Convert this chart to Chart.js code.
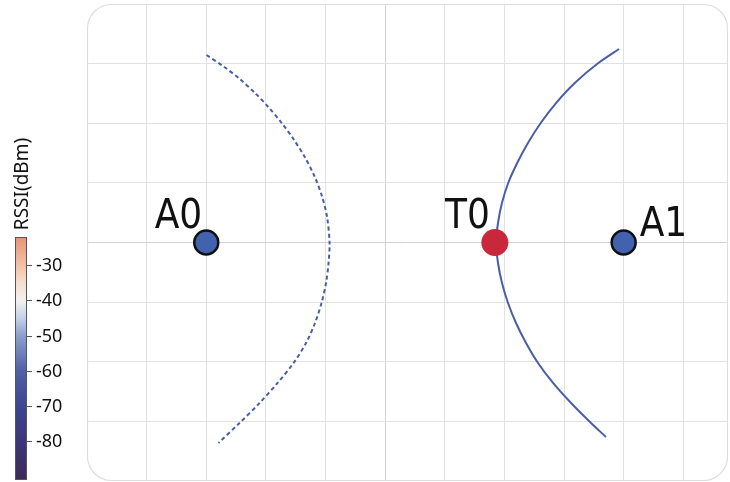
<!DOCTYPE html>
<html>
<head>
<meta charset="utf-8">
<script src="https://cdn.jsdelivr.net/npm/chart.js@4/dist/chart.umd.min.js"></script>
<style>
  html, body { margin: 0; padding: 0; background: #fff; }
  #wrap { width: 730px; height: 482px; }
</style>
</head>
<body>
<div id="wrap"><canvas id="c" width="730" height="482"></canvas></div>
<script>
// ── Data ───────────────────────────────────────────────
const xRange = [-5, 5.75];
const yRange = [-4, 4];

// dashed branch around A0
const curveLeftX = [-2.995, -2.697, -2.438, -2.182, -1.959, -1.734, -1.538, -1.348, -1.179, -1.055, -0.974, -0.932,
                    -0.949, -0.991, -1.067, -1.176, -1.327, -1.536, -1.804, -2.106, -2.442, -2.794];
const curveLeftY = [ 3.144,  2.943,  2.742,  2.507,  2.272,  2.004,  1.736,  1.434,  1.098,  0.763,  0.428, -0.008,
                    -0.344, -0.679, -1.014, -1.350, -1.685, -2.021, -2.356, -2.692, -3.027, -3.363];

// solid branch through T0
const curveRightX = [3.923, 3.575, 3.180, 2.866, 2.609, 2.395, 2.214, 2.064, 1.959, 1.893, 1.860,
                     1.893, 1.960, 2.061, 2.195, 2.363, 2.564, 2.816, 3.118, 3.453, 3.704];
const curveRightY = [3.245, 3.010, 2.675, 2.339, 2.004, 1.669, 1.333, 0.998, 0.662, 0.327, 0.000,
                     -0.344, -0.679, -1.014, -1.350, -1.685, -2.021, -2.356, -2.692, -3.027, -3.262];

const anchorNames = ['A0', 'A1'];
const anchorX = [-3, 4];
const anchorY = [0, 0];

const tagNames = ['T0'];
const tagX = [1.84];
const tagY = [0];

// colour bar
const cbMin = -91, cbMax = -22;
const cbTicks = [-30, -40, -50, -60, -70, -80];
const cbTitle = 'RSSI(dBm)';

// ── Styles ─────────────────────────────────────────────
const LINE = '#4a5ea6';
const BLUE = '#4261ae';
const RED = '#c8283a';
const GRID = '#e2e2e2';
const CB_STOPS = [
  [-91, 'rgb(62,42,88)'],
  [-80, 'rgb(60,54,122)'],
  [-70, 'rgb(58,70,145)'],
  [-60, 'rgb(78,96,166)'],
  [-50, 'rgb(140,160,206)'],
  [-45, 'rgb(196,210,232)'],
  [-40, 'rgb(242,241,240)'],
  [-35, 'rgb(246,222,206)'],
  [-30, 'rgb(243,192,167)'],
  [-22, 'rgb(232,146,116)']
];

const pts = (xs, ys) => xs.map((x, i) => ({ x, y: ys[i] }));

// rounded plot frame + corner mask
const framePlugin = {
  id: 'frame',
  beforeDraw(chart) {
    const ctx = chart.ctx;
    ctx.save();
    ctx.fillStyle = '#fff';
    ctx.fillRect(0, 0, chart.width, chart.height);
    ctx.restore();
  },
  beforeDatasetsDraw(chart) {
    const { ctx, chartArea: a } = chart;
    const r = 24;
    ctx.save();
    ctx.beginPath();
    ctx.rect(a.left - 2, a.top - 2, a.right - a.left + 4, a.bottom - a.top + 4);
    ctx.roundRect(a.left, a.top, a.right - a.left, a.bottom - a.top, r);
    ctx.fillStyle = '#fff';
    ctx.fill('evenodd');
    ctx.beginPath();
    ctx.roundRect(a.left + 0.5, a.top + 0.5, a.right - a.left - 1, a.bottom - a.top - 1, r);
    ctx.strokeStyle = '#dedede';
    ctx.lineWidth = 1.2;
    ctx.stroke();
    ctx.restore();
  }
};

// point labels
const labelPlugin = {
  id: 'labels',
  afterDatasetsDraw(chart) {
    const { ctx, scales: { x, y } } = chart;
    ctx.save();
    ctx.fillStyle = '#111';
    ctx.font = '40px "DejaVu Sans Condensed", "DejaVu Sans"';
    ctx.fontStretch = 'condensed';
    ctx.textBaseline = 'alphabetic';
    anchorNames.forEach((n, i) => {
      const px = x.getPixelForValue(anchorX[i]);
      const py = y.getPixelForValue(anchorY[i]);
      if (i === 0) { ctx.textAlign = 'right'; ctx.fillText(n, px - 4, py - 15); }
      else { ctx.textAlign = 'left'; ctx.fillText(n, px + 16, py - 7); }
    });
    tagNames.forEach((n, i) => {
      const px = x.getPixelForValue(tagX[i]);
      const py = y.getPixelForValue(tagY[i]);
      ctx.textAlign = 'right';
      ctx.fillText(n, px - 5, py - 15);
    });
    ctx.restore();
  }
};

// colour bar on the left
const colorbarPlugin = {
  id: 'colorbar',
  afterDraw(chart) {
    const ctx = chart.ctx;
    const left = 15, right = 27, top = 237, bottom = 480;
    const toY = v => top + (cbMax - v) / (cbMax - cbMin) * (bottom - top);
    ctx.save();
    const g = ctx.createLinearGradient(0, bottom, 0, top);
    CB_STOPS.forEach(([v, c]) => g.addColorStop((v - cbMin) / (cbMax - cbMin), c));
    ctx.fillStyle = g;
    ctx.fillRect(left, top, right - left, bottom - top);
    ctx.strokeStyle = '#555';
    ctx.lineWidth = 1;
    ctx.strokeRect(left + 0.5, top + 0.5, right - left - 1, bottom - top - 1);

    ctx.fillStyle = '#111';
    ctx.font = '18px "Noto Sans"';
    ctx.textAlign = 'left';
    ctx.textBaseline = 'middle';
    cbTicks.forEach(v => {
      const ty = Math.round(toY(v)) + 0.5;
      ctx.beginPath();
      ctx.moveTo(right, ty);
      ctx.lineTo(right + 5, ty);
      ctx.stroke();
      ctx.fillText(String(v), right + 9, ty);
    });

    ctx.translate(23, 184);
    ctx.rotate(-Math.PI / 2);
    ctx.textAlign = 'center';
    ctx.font = '19px "Noto Sans"';
    ctx.fillText(cbTitle, 0, 0);
    ctx.restore();
  }
};

const gridColor = (min, max) => c => {
  const v = c.tick && c.tick.value;
  if (v === min || v === max || !Number.isInteger(v)) return 'rgba(0,0,0,0)';
  return v === 0 ? '#d2d2d2' : GRID;
};

new Chart(document.getElementById('c').getContext('2d'), {
  type: 'scatter',
  data: {
    datasets: [
      {
        data: pts(tagX, tagY),
        backgroundColor: RED,
        borderWidth: 0,
        pointRadius: 13.5,
        order: 0
      },
      {
        data: pts(anchorX, anchorY),
        backgroundColor: BLUE,
        borderColor: '#111',
        borderWidth: 2.5,
        pointRadius: 12,
        order: 1
      },
      {
        data: pts(curveRightX, curveRightY),
        showLine: true,
        borderColor: LINE,
        borderWidth: 2,
        pointRadius: 0,
        tension: 0.3,
        order: 2
      },
      {
        data: pts(curveLeftX, curveLeftY),
        showLine: true,
        borderColor: LINE,
        borderWidth: 2,
        borderDash: [4, 3],
        pointRadius: 0,
        tension: 0.3,
        order: 3
      }
    ]
  },
  options: {
    responsive: false,
    animation: false,
    layout: { autoPadding: false, padding: { left: 87, right: 2, top: 4, bottom: 1 } },
    plugins: { legend: { display: false }, tooltip: { enabled: false } },
    scales: {
      x: {
        min: xRange[0], max: xRange[1],
        ticks: { display: false, stepSize: 1 },
        grid: { color: gridColor(xRange[0], xRange[1]), drawTicks: false, lineWidth: 1 },
        border: { display: false }
      },
      y: {
        min: yRange[0], max: yRange[1],
        ticks: { display: false, stepSize: 1 },
        grid: { color: gridColor(yRange[0], yRange[1]), drawTicks: false, lineWidth: 1 },
        border: { display: false }
      }
    }
  },
  plugins: [framePlugin, labelPlugin, colorbarPlugin]
});
</script>
</body>
</html>
